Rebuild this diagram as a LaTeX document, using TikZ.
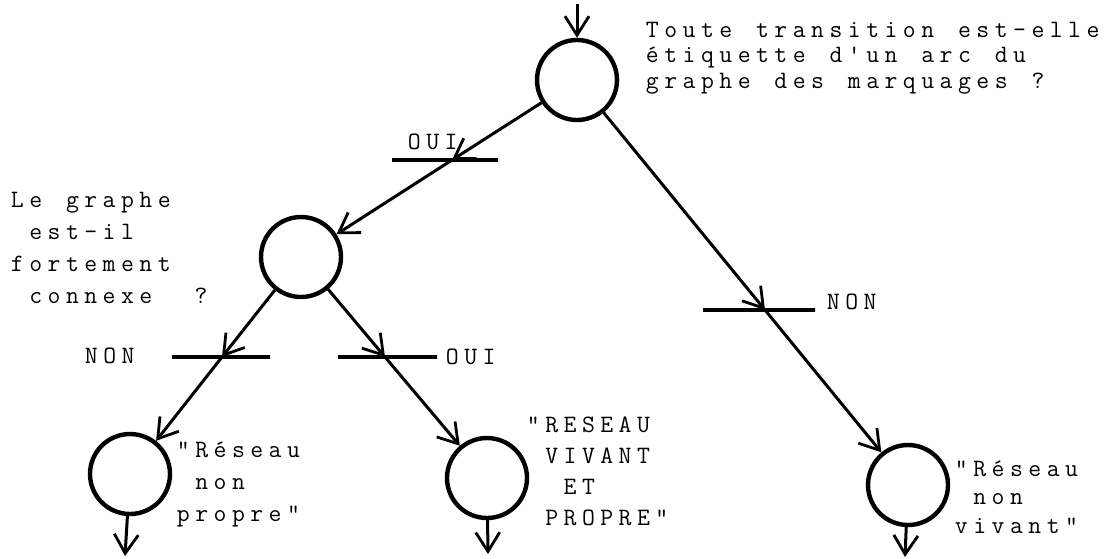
\documentclass[tikz,border=0pt]{standalone}
\usetikzlibrary{arrows.meta}
\ExplSyntaxOn
\NewDocumentCommand\tws{m}{\str_map_inline:nn {#1} {\makebox[18.36pt][c]{\str_if_eq:nnF{##1}{_}{##1}}}}
\ExplSyntaxOff
\begin{document}
\begin{tikzpicture}[x=1pt,y=-1pt,
  place/.style={draw, circle, line width=4.4pt, minimum size=80pt, inner sep=0pt},
  tbar/.style={draw, line width=3.8pt, inner sep=0pt, minimum height=0pt, rectangle},
  arc/.style={line width=3pt, -{Straight Barb[length=19pt,width=24pt,line width=2.8pt]}},
  lbl/.style={font=\ttfamily\fontsize{25}{32}\selectfont, anchor=base west, inner sep=0pt, align=left},
]
\useasboundingbox (0,0) rectangle (1113,558);
% places
\node[place] (top) at (577,80) {};
\node[place] (mid) at (301,257) {};
\node[place] (bl) at (130,474) {};
\node[place] (bm) at (487,478) {};
\node[place] (br) at (908,485) {};
% transitions
\node[tbar, minimum width=106pt] (b1) at (445,160) {};
\node[tbar, minimum width=98pt] (b2) at (221,357) {};
\node[tbar, minimum width=99pt] (b3) at (387.5,357) {};
\node[tbar, minimum width=112pt] (b4) at (759,310) {};
\coordinate (c1) at (452,160);
\coordinate (c2) at (222,357);
\coordinate (c3) at (385,357);
\coordinate (c4) at (765,310);
\coordinate (in0) at (577,4);
\coordinate (o1) at (125,556);
\coordinate (o2) at (488,554);
\coordinate (o3) at (905,557);
% arcs
\draw[arc] (in0) -- (top);
\draw[arc] (top) -- (c1);
\draw[arc] (c1) -- (mid);
\draw[arc] (mid) -- (c2);
\draw[arc] (c2) -- (bl);
\draw[arc] (mid) -- (c3);
\draw[arc] (c3) -- (bm);
\draw[arc] (top) -- (c4);
\draw[arc] (c4) -- (br);
\draw[arc] (bl) -- (o1);
\draw[arc] (bm) -- (o2);
\draw[arc] (br) -- (o3);
% labels (anchor = baseline of last line)
\node[lbl, font=\ttfamily\fontsize{25}{25.5}\selectfont] (q1) at (643,88)
  {\tws{Toute_transition_est-elle}\\\tws{étiquette_d'un_arc_du}\\\tws{graphe_des_marquages_?}};
\node[lbl] (q2) at (8,303)
  {\tws{Le_graphe}\\\tws{_est-il}\\\tws{fortement}\\\tws{_connexe__?}};
\node[lbl] (l1) at (405,149) {\tws{OUI}};
\node[lbl] (l2) at (82,363) {\tws{NON}};
\node[lbl] (l3) at (443,364) {\tws{OUI}};
\node[lbl] (l4) at (824,309) {\tws{NON}};
\node[lbl] (r1) at (174,521) {\tws{"Réseau}\\\tws{_non}\\\tws{propre"}};
\node[lbl, font=\ttfamily\fontsize{25}{31}\selectfont] (r2) at (524,525)
  {\tws{"RESEAU}\\\tws{_VIVANT}\\\tws{__ET}\\\tws{_PROPRE"}};
\node[lbl, font=\ttfamily\fontsize{25}{28.5}\selectfont] (r3) at (952,533)
  {\tws{"Réseau}\\\tws{_non}\\\tws{vivant"}};
\end{tikzpicture}
\end{document}
